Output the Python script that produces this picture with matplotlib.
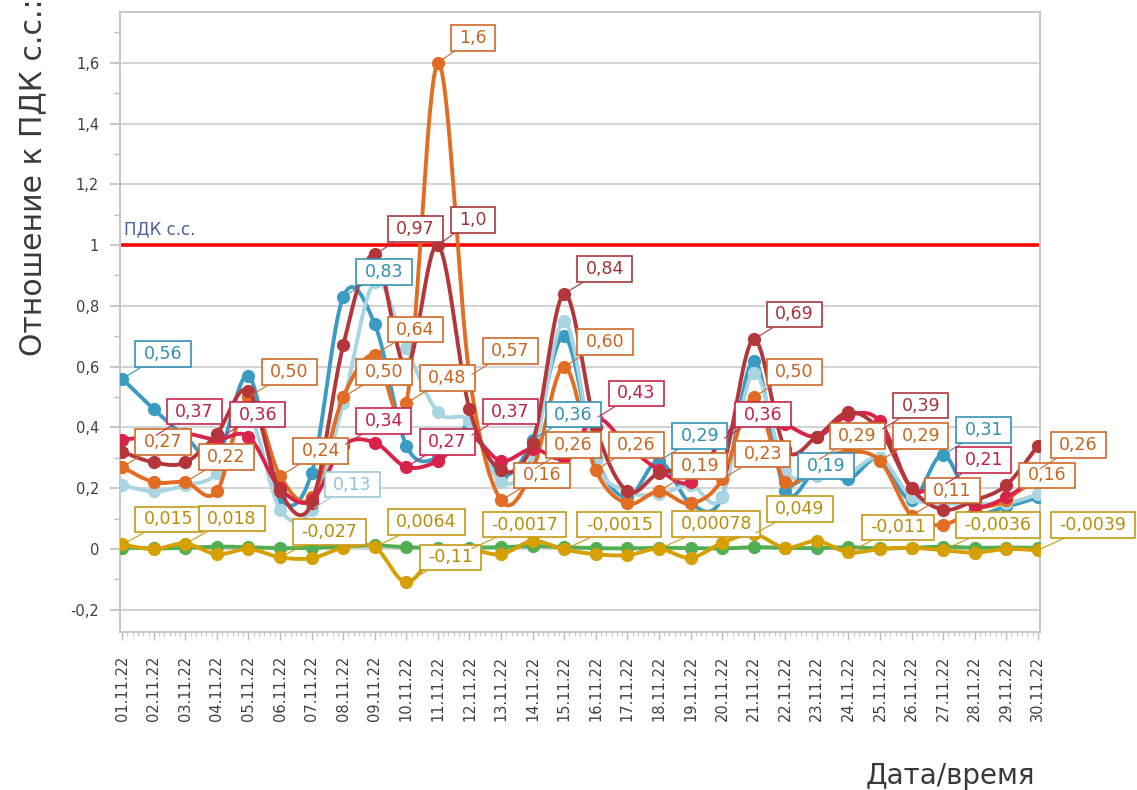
import numpy as np
import matplotlib
matplotlib.use("Agg")
import matplotlib.pyplot as plt
from matplotlib.path import Path
from matplotlib.ticker import MultipleLocator, FixedLocator, FuncFormatter

# ---------------- data ----------------
dates = ["01.11.22", "02.11.22", "03.11.22", "04.11.22", "05.11.22", "06.11.22",
         "07.11.22", "08.11.22", "09.11.22", "10.11.22", "11.11.22", "12.11.22",
         "13.11.22", "14.11.22", "15.11.22", "16.11.22", "17.11.22", "18.11.22",
         "19.11.22", "20.11.22", "21.11.22", "22.11.22", "23.11.22", "24.11.22",
         "25.11.22", "26.11.22", "27.11.22", "28.11.22", "29.11.22", "30.11.22"]

teal = [0.56, 0.46, 0.37, 0.30, 0.57, 0.17, 0.25, 0.83, 0.74, 0.34,
        0.30, 0.40, 0.24, 0.36, 0.70, 0.30, 0.17, 0.29, 0.15, 0.17,
        0.62, 0.19, 0.26, 0.23, 0.30, 0.16, 0.31, 0.13, 0.14, 0.17]
light_blue = [0.21, 0.19, 0.21, 0.25, 0.44, 0.13, 0.13, 0.48, 0.88, 0.66,
              0.45, 0.42, 0.22, 0.31, 0.75, 0.29, 0.19, 0.18, 0.21, 0.17,
              0.58, 0.26, 0.24, 0.25, 0.30, 0.17, 0.15, 0.15, 0.15, 0.18]
dark_red = [0.32, 0.285, 0.285, 0.38, 0.52, 0.19, 0.15, 0.67, 0.97, 0.60,
            1.0, 0.46, 0.26, 0.35, 0.84, 0.40, 0.19, 0.25, 0.26, 0.27,
            0.69, 0.33, 0.37, 0.45, 0.39, 0.20, 0.13, 0.16, 0.21, 0.34]
crimson = [0.36, 0.37, 0.38, 0.36, 0.37, 0.20, 0.16, 0.34, 0.35, 0.27,
           0.29, 0.37, 0.29, 0.33, 0.30, 0.43, 0.34, 0.26, 0.22, 0.36,
           0.45, 0.41, 0.37, 0.44, 0.42, 0.20, 0.21, 0.14, 0.17, 0.24]
orange = [0.27, 0.22, 0.22, 0.19, 0.50, 0.24, 0.17, 0.50, 0.64, 0.48,
          1.6, 0.57, 0.16, 0.26, 0.60, 0.26, 0.15, 0.19, 0.15, 0.23,
          0.50, 0.22, 0.29, 0.32, 0.29, 0.11, 0.08, 0.13, 0.16, 0.26]
green = [0.005, 0.002, 0.004, 0.008, 0.006, 0.003, 0.004, 0.008, 0.012, 0.006,
         0.004, 0.005, 0.006, 0.010, 0.006, 0.003, 0.002, 0.004, 0.003, 0.002,
         0.006, 0.004, 0.003, 0.006, 0.002, 0.004, 0.008, 0.004, 0.005, 0.004]
gold = [0.015, 0.0, 0.018, -0.017, 0.0, -0.027, -0.03, 0.004, 0.0064, -0.11,
        -0.007, -0.0017, -0.017, 0.026, -0.0015, -0.017, -0.02, 0.00078, -0.029, 0.02,
        0.049, 0.004, 0.026, -0.011, 0.0, 0.004, -0.0036, -0.012, 0.0, -0.0039]

pdk_level = 1.0
pdk_label = "ПДК с.с."

# indices of points carrying a value label
labels_teal = [0, 7, 13, 17, 21, 26]
labels_light_blue = [6]
labels_dark_red = [8, 10, 14, 20, 24]
labels_crimson = [1, 3, 7, 9, 11, 15, 19, 26]
labels_orange = [0, 2, 4, 5, 7, 8, 9, 10, 11, 12, 13, 14, 15, 17, 19, 20, 22, 24, 25, 28, 29]
labels_green = []
labels_gold = [0, 2, 5, 8, 9, 11, 14, 17, 20, 23, 26, 29]

# ---------------- style ----------------
series = [
    # values, label idx, line color, label edge, label text, zorder
    (teal, labels_teal, "#3a9cc3", "#3592b5", "#2f8fb3", 3),
    (light_blue, labels_light_blue, "#a9d5e3", "#9cc9d8", "#8fc3d6", 4),
    (orange, labels_orange, "#e26d22", "#cf6a2a", "#c8641f", 5),
    (crimson, labels_crimson, "#d9234a", "#c8284a", "#bf1f48", 6),
    (dark_red, labels_dark_red, "#b4363b", "#a8383c", "#a33238", 7),
    (green, labels_green, "#52ae52", "#52ae52", "#3f963f", 8),
    (gold, labels_gold, "#d6a000", "#c49a14", "#b88d08", 9),
]


def smooth(y, n=16):
    y = np.asarray(y, float)
    P = np.column_stack([np.arange(len(y), dtype=float), y])
    t = np.linspace(0, 1, n)[:, None]
    out = []
    m = len(P)
    for i in range(m - 1):
        p0 = P[i - 1] if i > 0 else P[i]
        p1, p2 = P[i], P[i + 1]
        p3 = P[i + 2] if i + 2 < m else P[i + 1]
        c1 = p1 + (p2 - p0) / 6.0
        c2 = p2 - (p3 - p1) / 6.0
        seg = (1 - t) ** 3 * p1 + 3 * (1 - t) ** 2 * t * c1 + 3 * (1 - t) * t ** 2 * c2 + t ** 3 * p2
        out.append(seg if i == 0 else seg[1:])
    return np.vstack(out)


def fmt(v):
    if v == 0:
        return "0"
    d = max(0, 1 - int(np.floor(np.log10(abs(v)))))
    return f"{v:.{d}f}".replace(".", ",")


def label_box(x0, y0, width, height, mutation_size):
    px = 0.48 * mutation_size
    py = 0.22 * mutation_size
    x0, y0 = x0 - px, y0 - py
    x1, y1 = x0 + width + 2 * px, y0 + height + 2 * py
    return Path([(x0, y0), (x1, y0), (x1, y1), (x0, y1), (x0, y0)], closed=True)


plt.rcParams["font.family"] = ["DejaVu Sans"]
fig = plt.figure(figsize=(11.37, 7.90), dpi=100)
fig.patch.set_facecolor("white")
ax = fig.add_axes([120 / 1137, 1 - 632 / 790, 920 / 1137, 620 / 790])

x = np.arange(len(dates))
ax.set_xlim(-0.07, len(dates) - 1 + 0.07)
ax.set_ylim(-0.273, 1.767)

# grid
ax.yaxis.set_major_locator(MultipleLocator(0.2))
ax.yaxis.set_minor_locator(MultipleLocator(0.1))
ax.grid(axis="y", which="major", color="#d4d4d4", lw=1.5, zorder=0)
ax.set_axisbelow(True)

# PDK line
ax.axhline(pdk_level, color="#ff0000", lw=2.6, zorder=2)
ax.annotate(pdk_label, xy=(0.004, pdk_level), xycoords=("axes fraction", "data"),
            xytext=(0, 5), textcoords="offset points", ha="left", va="bottom",
            fontsize=12, color="#4b5f9c", zorder=2)

for vals, lab_idx, lc, ec, tc, z in series:
    s = smooth(vals)
    ax.plot(s[:, 0], s[:, 1], color=lc, lw=2.8, solid_capstyle="round", zorder=z)
    ax.plot(x, vals, "o", color=lc, ms=8.5, zorder=z)

for vals, lab_idx, lc, ec, tc, z in series:
    for i in lab_idx:
        ax.annotate(fmt(vals[i]), xy=(x[i], vals[i]), xytext=(15.5, 11.5),
                    textcoords="offset points", ha="left", va="bottom",
                    fontsize=12.5, color=tc, annotation_clip=False, zorder=20,
                    bbox=dict(boxstyle=label_box, fc="white", ec=ec, lw=1.2),
                    arrowprops=dict(arrowstyle="-", color=ec, lw=0.8,
                                    shrinkA=0, shrinkB=2))

# axes styling
for side in ["left", "right", "top", "bottom"]:
    ax.spines[side].set_color("#c8c8c8")
    ax.spines[side].set_linewidth(1.5)

ax.yaxis.set_major_formatter(FuncFormatter(
    lambda v, p: "0" if abs(v) < 1e-9 else f"{round(v, 1):g}".replace(".", ",")))
ax.tick_params(axis="y", which="major", direction="out", length=7, width=1.2,
               color="#bdbdbd", labelsize=10.5, labelcolor="#404040", pad=8)
ax.tick_params(axis="y", which="minor", direction="out", length=4, width=1.0, color="#bdbdbd")

ax.xaxis.set_major_locator(FixedLocator(x))
ax.xaxis.set_minor_locator(MultipleLocator(1 / 6))
ax.set_xticklabels(dates, rotation=90)
ax.tick_params(axis="x", which="major", direction="out", length=6, width=1.0,
               color="#bdbdbd", labelsize=10.5, labelcolor="#404040", pad=11)
ax.tick_params(axis="x", which="minor", direction="out", length=3, width=0.8, color="#c8c8c8")

# axis titles
fig.text(33 / 1137, 1 - 356 / 790, "Отношение к ПДК с.с.:", rotation=90,
         ha="center", va="bottom", fontsize=21.5, color="#3a3a3a")
fig.text(1035 / 1137, 1 - 784 / 790, "Дата/время", ha="right", va="baseline",
         fontsize=20, color="#3a3a3a")

fig.savefig("out.png", dpi=100, facecolor="white")
